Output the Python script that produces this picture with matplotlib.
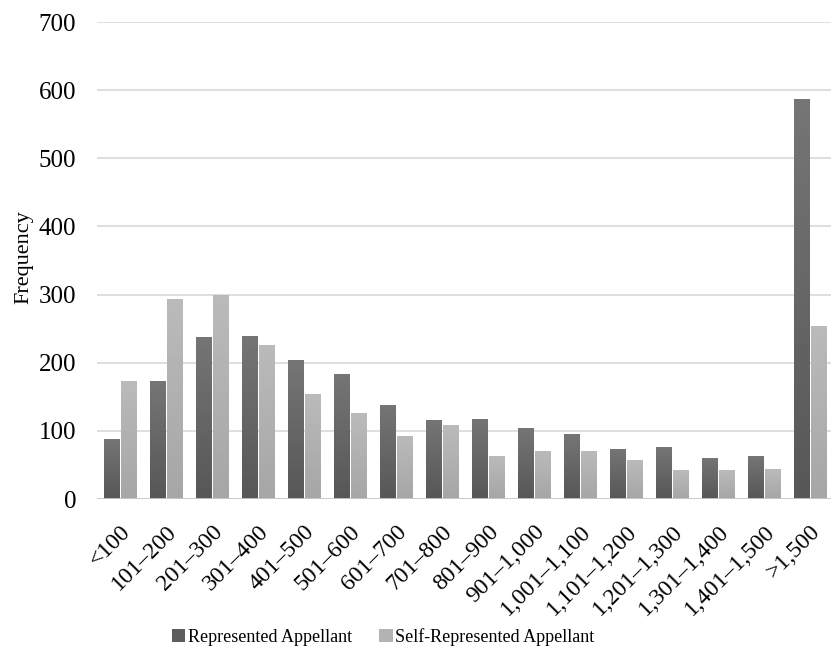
import numpy as np
import matplotlib.pyplot as plt

plt.rcParams['font.family'] = ['Liberation Serif', 'DejaVu Serif']

# Categories and frequencies
categories = ['<100', '101–200', '201–300', '301–400', '401–500', '501–600',
              '601–700', '701–800', '801–900', '901–1,000', '1,001–1,100',
              '1,101–1,200', '1,201–1,300', '1,301–1,400', '1,401–1,500', '>1,500']
represented = [88, 173, 238, 240, 204, 183, 138, 116, 117, 104, 95, 73, 76, 60, 63, 587]
self_represented = [173, 293, 299, 226, 154, 126, 92, 109, 63, 70, 70, 57, 42, 42, 44, 254]


# Paint a vertical grey gradient inside each bar of a bar container
def shade_bars(ax, bars, top, bottom):
    grad = np.linspace(top, bottom, 100).reshape(-1, 1)
    for b in bars:
        b.set_facecolor('none')
        x0, y0 = b.get_x(), b.get_y()
        im = ax.imshow(grad, cmap='gray', vmin=0, vmax=1, aspect='auto',
                       extent=(x0, x0 + b.get_width(), y0, y0 + b.get_height()),
                       origin='upper', zorder=3)
        im.set_clip_path(b)


fig = plt.figure(figsize=(8.31, 6.70), dpi=100)
ax = fig.add_axes([0.1167, 0.2552, 0.8855, 0.7118])

x = np.arange(len(categories))
w = 0.33
b1 = ax.bar(x - w / 2 - 0.02, represented, w, color='#5e5e5e', linewidth=0,
            label='Represented Appellant', zorder=3)
b2 = ax.bar(x + w / 2 + 0.02, self_represented, w, color='#b3b3b3', linewidth=0,
            label='Self-Represented Appellant', zorder=3)
shade_bars(ax, b1, 0.46, 0.34)
shade_bars(ax, b2, 0.73, 0.65)

ax.set_xlim(-0.5, len(categories) - 0.5)
ax.set_ylim(0, 700)
ax.set_yticks(range(0, 701, 100))
ax.yaxis.grid(True, color='#d9d9d9', linewidth=1.2, zorder=0)
ax.axhline(0, color='#c8c8c8', linewidth=2, zorder=4)
for s in ax.spines.values():
    s.set_visible(False)
ax.tick_params(length=0)
ax.tick_params(axis='y', labelsize=18, pad=15)
ax.set_xticks(x)
ax.set_xticklabels(categories, rotation=45, ha='right', rotation_mode='anchor', fontsize=17)
ax.tick_params(axis='x', pad=16)
ax.set_ylabel('Frequency', fontsize=16)
ax.yaxis.set_label_coords(-0.087, 0.508)

leg = fig.legend(handles=[b1, b2], loc='lower center', bbox_to_anchor=(0.461, 0.012), ncol=2,
                 frameon=False, fontsize=13, handlelength=0.75, handleheight=0.75,
                 handletextpad=0.15, columnspacing=1.5)
leg.legend_handles[0].set_facecolor('#5e5e5e')
leg.legend_handles[1].set_facecolor('#b3b3b3')

fig.savefig('out.png', dpi=100)
